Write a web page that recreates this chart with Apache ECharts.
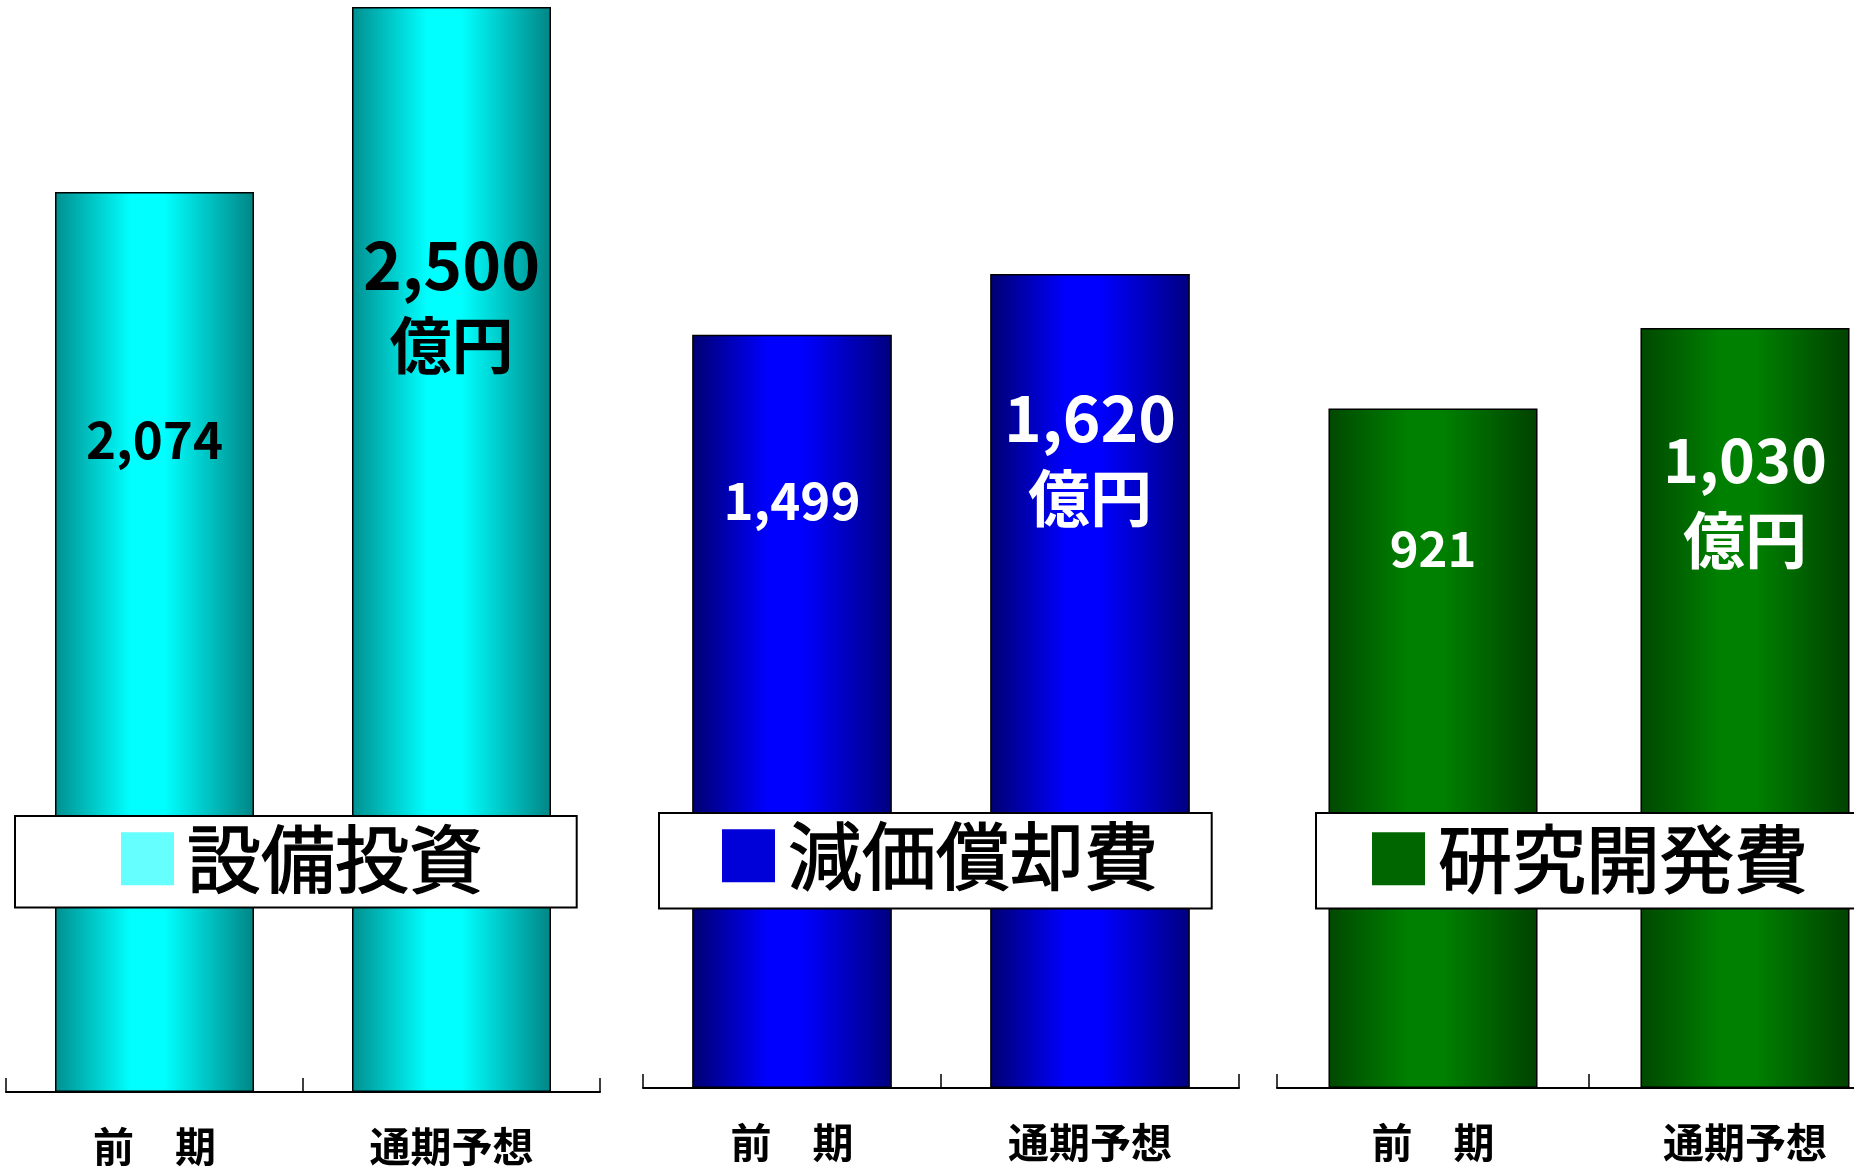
<!DOCTYPE html>
<html>
<head>
<meta charset="utf-8">
<script src="https://cdn.jsdelivr.net/npm/echarts@6/dist/echarts.min.js"></script>
<style>
html,body{margin:0;padding:0;background:#fff;}
#chart{width:1854px;height:1168px;}
</style>
</head>
<body>
<div id="chart"></div>
<script>
// ---- data ----
const categories = ['前　期', '通期予想'];
const seriesNames = ['設備投資', '減価償却費', '研究開発費'];
const capexValues = [2074, 2500];
const depreciationValues = [1499, 1620];
const rdValues = [921, 1030];
const unitLabel = '億円';

// ---- layout / style (not data) ----
const FONT = '"Noto Sans CJK JP", "Liberation Sans", sans-serif';
const panels = [
  { values: capexValues, name: seriesNames[0], grid: { left: 6, width: 594, top: 7, height: 1085 },
    grad: ['#008f8f', '#00ffff', '#008585'], legendColor: '#66ffff', labelColor: '#000',
    big: 66, small: 51,
    labelDy: [248, 298], legend: { left: 15, top: 816, padding: [5, 93, 11, 106] } },
  { values: depreciationValues, name: seriesNames[1], grid: { left: 643, width: 596, top: 274, height: 814 },
    grad: ['#000070', '#0000ff', '#000080'], legendColor: '#0000d8', labelColor: '#fff',
    big: 64, small: 51,
    labelDy: [166, 184], legend: { left: 659, top: 813, padding: [5, 53, 15, 63] } },
  { values: rdValues, name: seriesNames[2], grid: { left: 1277, width: 624, top: 328, height: 760 },
    grad: ['#004800', '#008000', '#004200'], legendColor: '#006600', labelColor: '#fff',
    big: 61, small: 49,
    labelDy: [140, 172], legend: { left: 1316, top: 813, padding: [8, 60, 12, 56] } }
];

function gradient(c) {
  return new echarts.graphic.LinearGradient(0, 0, 1, 0, [
    { offset: 0, color: c[0] },
    { offset: 0.38, color: c[1] },
    { offset: 0.55, color: c[1] },
    { offset: 1, color: c[2] }
  ]);
}
function fmt(v) { return v.toLocaleString('en-US'); }

const chart = echarts.init(document.getElementById('chart'), null, { renderer: 'canvas' });

const option = {
  animation: false,
  backgroundColor: '#fff',
  grid: panels.map(p => Object.assign({ containLabel: false, outerBoundsMode: 'none' }, p.grid)),
  xAxis: panels.map((p, i) => ({
    type: 'category', gridIndex: i, data: categories, boundaryGap: true,
    axisLine: { show: true, lineStyle: { color: '#000', width: 2 } },
    axisTick: { show: true, inside: true, length: 14, lineStyle: { color: '#000', width: 1.5 } },
    axisLabel: { show: true, margin: 34, fontSize: 41, fontWeight: 'bold', color: '#000', fontFamily: FONT }
  })),
  yAxis: panels.map((p, i) => ({
    type: 'value', gridIndex: i, min: 0, max: p.values[1], show: false,
    splitLine: { show: false }
  })),
  legend: panels.map(p => ({
    data: [{ name: p.name, itemStyle: { color: p.legendColor, borderWidth: 0 } }],
    left: p.legend.left, top: p.legend.top, padding: p.legend.padding,
    orient: 'horizontal', icon: 'rect', itemWidth: 53, itemHeight: 53,
    backgroundColor: '#fff', borderColor: '#000', borderWidth: 2,
    selectedMode: false,
    textStyle: { fontSize: 74, lineHeight: 72, color: '#000', fontFamily: FONT, padding: [0, 0, 0, 8],
                 textBorderColor: '#000', textBorderWidth: 1.4 }
  })),
  series: panels.map((p, i) => ({
    type: 'bar', name: p.name, xAxisIndex: i, yAxisIndex: i, barWidth: '67%',
    itemStyle: { color: gradient(p.grad), borderColor: '#000', borderWidth: 1.5 },
    emphasis: { disabled: true },
    data: p.values.map((v, j) => ({
      value: v,
      label: {
        show: true,
        position: ['50%', p.labelDy[j]],
        align: 'center', verticalAlign: 'middle',
        color: p.labelColor, fontFamily: FONT, fontWeight: 'bold',
        formatter: j === 0 ? '{s|' + fmt(v) + '}' : '{b|' + fmt(v) + '}\n{u|' + unitLabel + '}',
        rich: {
          s: { fontSize: p.small, fontWeight: 'bold', color: p.labelColor, fontFamily: FONT, lineHeight: 60 },
          b: { fontSize: p.big, fontWeight: 'bold', color: p.labelColor, fontFamily: FONT, lineHeight: 80 },
          u: { fontSize: 62, fontWeight: 'bold', color: p.labelColor, fontFamily: FONT, lineHeight: 80 }
        }
      }
    }))
  }))
};
chart.setOption(option);
</script>
</body>
</html>
